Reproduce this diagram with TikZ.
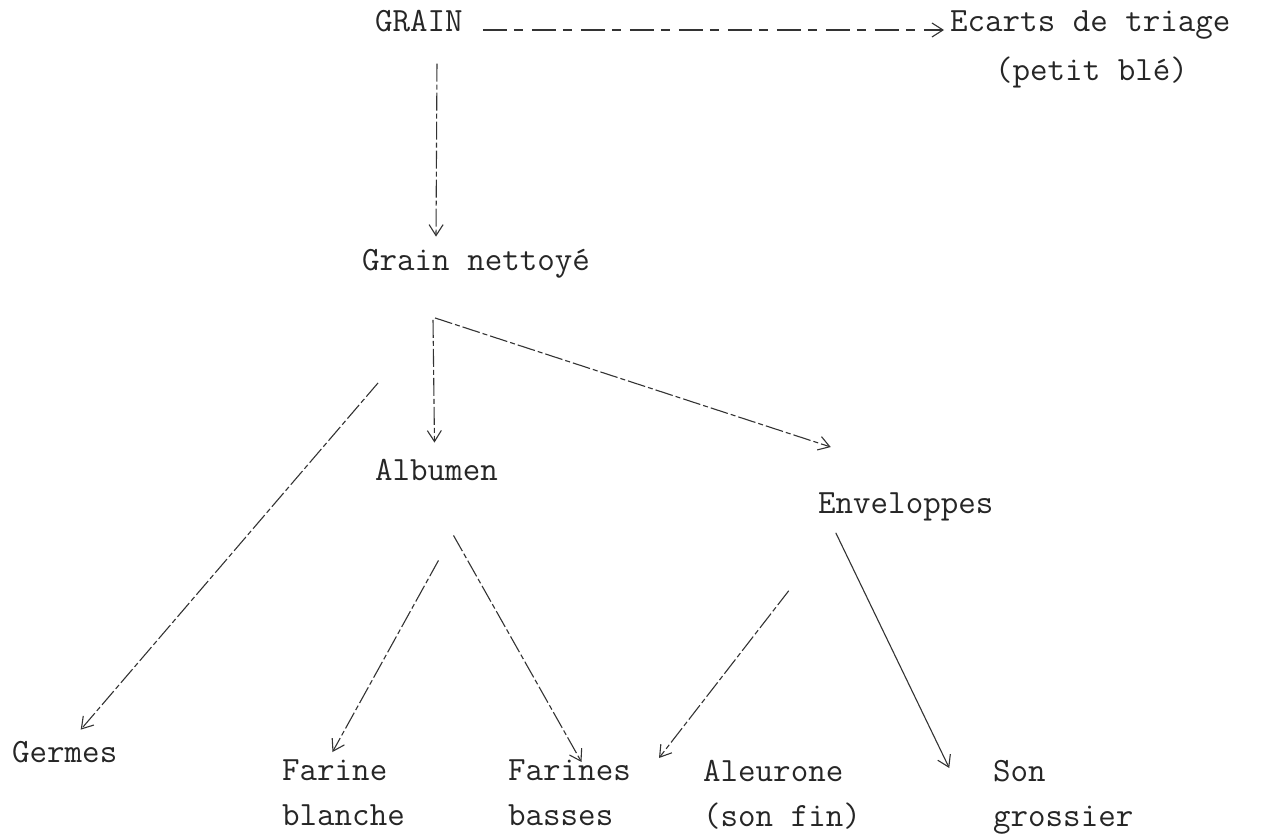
\documentclass[tikz,border=0pt]{standalone}
\usepackage{fontspec}
\usepackage{tikz}
\usetikzlibrary{arrows.meta}

\begin{document}
\begin{tikzpicture}[x=1pt, y=-1pt,
    every node/.style={inner sep=0pt, font=\fontsize{34}{45}\selectfont\ttfamily, text=black!85},
    lab/.style={anchor=base west},
    lab2/.style={anchor=north west, align=left},
    flow/.style={draw=black!80, line width=1.1pt, -{Straight Barb[length=11pt,width=14pt,line width=1.1pt]}},
    broken/.style={flow, dash pattern=on 18pt off 3pt on 5pt off 3pt},
    typed/.style={flow, dash pattern=on 24pt off 7pt on 9pt off 9pt}]

    \useasboundingbox (0,0) rectangle (1278,838);

    \node[lab] (gr) at (375, 31) {GRAIN};
    \node[lab] (ec) at (950, 31) {Ecarts de triage};
    \node[lab] (pb) at (995, 80) {(petit blé)};
    \node[lab] (gn) at (362, 270) {Grain nettoyé};
    \node[lab] (alb) at (375, 480) {Albumen};
    \node[lab] (env) at (818, 513) {Enveloppes};
    \node[lab] (ger) at (12, 762) {Germes};
    \node[lab2] (fb) at (282, 760) {Farine\\blanche};
    \node[lab2] (fbs) at (508, 760) {Farines\\basses};
    \node[lab2] (al) at (703, 760) {Aleurone\\(son fin)};
    \node[lab2] (sg) at (993, 760) {Son\\grossier};

    \draw [typed] ([xshift=20pt,yshift=1pt]gr.base east) to ([xshift=-6pt,yshift=1pt]ec.base west);
    \draw [broken] ([xshift=18pt,yshift=-32pt]gr.south) to ([xshift=-40pt,yshift=12pt]gn.north);
    \draw [broken] ([xshift=-43pt,yshift=-42pt]gn.south) to ([xshift=-2pt,yshift=16pt]alb.north);
    \draw [broken] ([xshift=-41pt,yshift=-40pt]gn.south) to ([xshift=-75pt,yshift=45pt]env.north);
    \draw [broken] ([xshift=-98pt,yshift=-105pt]gn.south) to ([xshift=16pt,yshift=11pt]ger.north);
    \draw [broken] ([xshift=2pt,yshift=-80pt]alb.south) to ([xshift=-11pt,yshift=8pt]fb.north);
    \draw [broken] ([xshift=17pt,yshift=-55pt]alb.south) to ([xshift=12pt,yshift=-2pt]fbs.north);
    \draw [broken] ([xshift=-117pt,yshift=-70pt]env.south) to ([xshift=-123pt,yshift=2pt]al.north);
    \draw [flow] ([xshift=-70pt,yshift=-12pt]env.south) to ([xshift=-114pt,yshift=-8pt]sg.north);

\end{tikzpicture}
\end{document}
